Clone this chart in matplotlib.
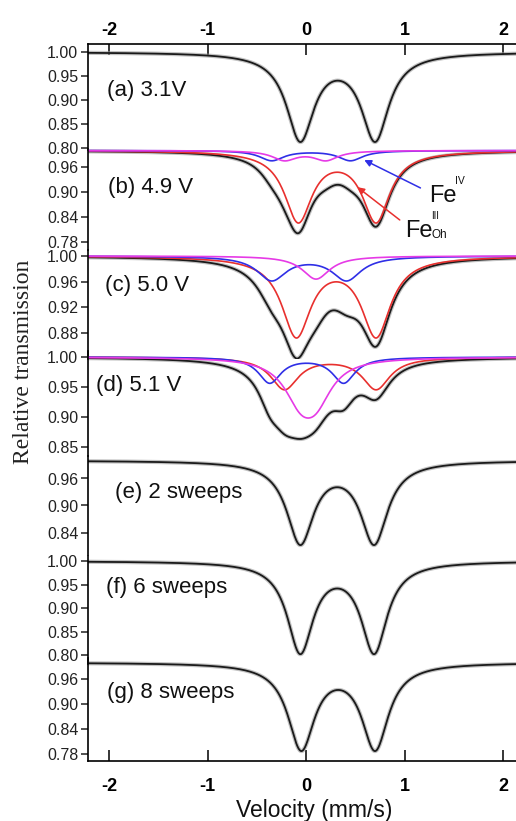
import numpy as np
import matplotlib.pyplot as plt

plt.rcParams['font.family'] = ['Liberation Sans', 'DejaVu Sans']

# panel labels
panel_labels = ['(a) 3.1V', '(b) 4.9 V', '(c) 5.0 V', '(d) 5.1 V',
                '(e) 2 sweeps', '(f) 6 sweeps', '(g) 8 sweeps']

# y range and labelled ticks of every panel
y_limits = [(0.795, 1.017), (0.76, 1.004), (0.84, 1.01), (0.835, 1.01),
            (0.79, 1.01), (0.78, 1.01), (0.764, 1.01)]
y_ticks = [[1.00, 0.95, 0.90, 0.85, 0.80],
           [0.96, 0.90, 0.84, 0.78],
           [1.00, 0.96, 0.92, 0.88],
           [1.00, 0.95, 0.90, 0.85],
           [0.96, 0.90, 0.84],
           [1.00, 0.95, 0.90, 0.85, 0.80],
           [0.96, 0.90, 0.84, 0.78]]
x_ticks = [-2, -1, 0, 1, 2]

# single doublet fits (a, e, f, g): isomer shift, quadrupole splitting, line depth, half width (mm/s)
single_panels = [0, 4, 5, 6]
single_is = [0.32, 0.315, 0.315, 0.325]
single_qs = [0.76, 0.75, 0.75, 0.75]
single_depth = [0.179, 0.1795, 0.19, 0.203]
single_hw = [0.17, 0.167, 0.16, 0.165]

# multi-site fits (b, c, d)
site_panels = [1, 2, 3]
red_is = [0.315, 0.305, 0.245]        # Fe(III) Oh
red_qs = [0.79, 0.81, 0.93]
red_depth = [0.167, 0.122, 0.053]
red_hw = [0.17, 0.18, 0.17]
blue_is = [0.05, 0.03, 0.005]         # Fe(IV)
blue_qs = [0.80, 0.76, 0.75]
blue_depth = [0.024, 0.037, 0.0425]
blue_hw = [0.15, 0.18, 0.14]
mag_is = [-0.01, 0.10, 0.02]
mag_qs = [0.42, 0.0, 0.16]
mag_depth = [0.0225, 0.018, 0.059]
mag_hw = [0.15, 0.17, 0.20]

RED = '#e8302e'
BLUE = '#2f2fe6'
MAGENTA = '#e63ae6'

W, H = 516, 821
fig = plt.figure(figsize=(W / 100, H / 100), dpi=100)

# pixel row of 1.00 and pixels per unit transmission for each panel
row_one = [52, 150.5, 256, 357, 460.5, 561, 662.5]
px_unit = [480, 416, 642, 600, 450, 470, 417]
left_px, px_per_v = 88, 98.5
xlim = (-2.215, 2.2)

v = np.linspace(-2.3, 2.3, 800)


def doublet(iso, qs, depth, hw):
    lo = iso - qs / 2
    hi = iso + qs / 2
    return depth / (1 + ((v - lo) / hw) ** 2) + depth / (1 + ((v - hi) / hw) ** 2)


axes = []
for i in range(7):
    lo, hi = y_limits[i]
    top = row_one[i] - (hi - 1) * px_unit[i]
    bot = row_one[i] + (1 - lo) * px_unit[i]
    width = (xlim[1] - xlim[0]) * px_per_v
    ax = fig.add_axes([left_px / W, 1 - bot / H, width / W, (bot - top) / H])
    ax.patch.set_alpha(0)
    ax.set_xlim(*xlim)
    ax.set_ylim(lo, hi)
    for s in ['right', 'top', 'bottom']:
        ax.spines[s].set_visible(False)
    ax.spines['left'].set_linewidth(1.2)
    ax.set_yticks(y_ticks[i])
    ax.set_yticklabels(['%.2f' % t for t in y_ticks[i]])
    ax.tick_params(axis='y', direction='out', length=5, width=1.1,
                   labelsize=11.5, pad=2, colors='#222222')
    ax.set_xticks(x_ticks)
    ax.tick_params(axis='x', bottom=False, labelbottom=False)
    axes.append(ax)

# top and bottom velocity axes
ax_top = axes[0]
ax_top.spines['top'].set_visible(True)
ax_top.spines['top'].set_linewidth(1.2)
ax_top.tick_params(axis='x', top=True, labeltop=True, direction='in',
                   length=8, width=1.1, labelsize=13, pad=3.5)
ax_bot = axes[6]
ax_bot.spines['bottom'].set_visible(True)
ax_bot.spines['bottom'].set_linewidth(1.2)
ax_bot.tick_params(axis='x', bottom=True, labelbottom=True, direction='in',
                   length=8, width=1.1, labelsize=13, pad=12.5)
for ax in (ax_top, ax_bot):
    ax.set_xticklabels([str(t) for t in x_ticks], fontweight='bold')

# single doublet spectra
for k, p in enumerate(single_panels):
    fit = 1 - doublet(single_is[k], single_qs[k], single_depth[k], single_hw[k])
    axes[p].plot(v, fit, color='#9a9a9a', lw=3.0, alpha=0.6)
    axes[p].plot(v, fit, color='#1a1a1a', lw=1.3)

# spectra with Fe(III) Oh, Fe(IV) and third site
for k, p in enumerate(site_panels):
    red = doublet(red_is[k], red_qs[k], red_depth[k], red_hw[k])
    blue = doublet(blue_is[k], blue_qs[k], blue_depth[k], blue_hw[k])
    mag = doublet(mag_is[k], mag_qs[k], mag_depth[k], mag_hw[k])
    total = 1 - (red + blue + mag)
    ax = axes[p]
    ax.plot(v, total, color='#9a9a9a', lw=3.0, alpha=0.6)
    ax.plot(v, total, color='#1a1a1a', lw=1.3)
    ax.plot(v, 1 - red, color=RED, lw=1.2)
    ax.plot(v, 1 - blue, color=BLUE, lw=1.2)
    ax.plot(v, 1 - mag, color=MAGENTA, lw=1.2)

# panel titles
label_pos = [(107, 90), (108, 187), (105, 285), (96, 385),
             (115, 492), (106, 587), (107, 692)]
for lab, (x, y) in zip(panel_labels, label_pos):
    fig.text(x / W, 1 - y / H, lab, fontsize=16, ha='left', va='center',
             color='#111111')

# site labels with arrows in panel (b)
axb = axes[1]
axb.annotate('', xy=(0.59, 0.977), xytext=(1.16, 0.91),
             arrowprops=dict(arrowstyle='-|>', color=BLUE, lw=1.1,
                             mutation_scale=10, shrinkA=0, shrinkB=0),
             annotation_clip=False)
axb.annotate('', xy=(0.52, 0.912), xytext=(0.95, 0.833),
             arrowprops=dict(arrowstyle='-|>', color=RED, lw=1.1,
                             mutation_scale=10, shrinkA=0, shrinkB=0),
             annotation_clip=False)
axb.text(1.245, 0.875, 'Fe', fontsize=17, ha='left', va='baseline', color='#111111')
axb.text(1.51, 0.919, 'IV', fontsize=7.5, ha='left', va='baseline', color='#111111')
axb.text(1.0, 0.792, 'Fe', fontsize=17, ha='left', va='baseline', color='#111111')
axb.text(1.265, 0.836, 'III', fontsize=7, ha='left', va='baseline', color='#111111')
axb.text(1.27, 0.79, 'Oh', fontsize=8.5, ha='left', va='baseline', color='#111111')

fig.text(314 / W, 1 - 810 / H, 'Velocity (mm/s)', fontsize=16.5, ha='center',
         va='center', color='#111111')
fig.text(24 / W, 1 - 362 / H, 'Relative transmission', rotation=90,
         fontsize=17, family=['Liberation Serif', 'DejaVu Serif'],
         ha='center', va='center', color='#222222')

fig.savefig('out.png', dpi=100)
